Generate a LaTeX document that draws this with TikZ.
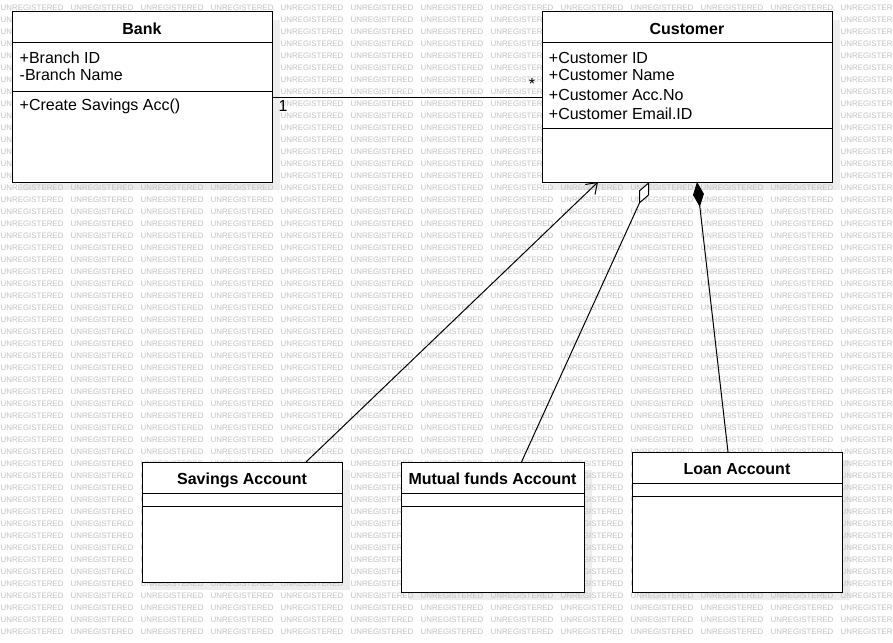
\documentclass[tikz,border=0pt]{standalone}
\usepackage{fontspec}
\setmainfont{Liberation Sans}
\usetikzlibrary{arrows.meta,calc}
\newcommand{\wmword}{\makebox[70pt][l]{UNREGISTERED}}
\newcommand{\wmline}{\wmword\wmword\wmword\wmword\wmword\wmword\wmword\wmword\wmword\wmword\wmword\wmword UNREGISTER}
\begin{document}
\begin{tikzpicture}[x=1pt,y=-1pt,
  classbox/.style={draw=black,line width=1pt,fill=white,rectangle,inner sep=0pt,outer sep=0pt,anchor=north west},
  shadowbox/.style={fill=black!7,draw=none,rectangle,inner sep=0pt,outer sep=0pt,anchor=north west},
  divider/.style={draw=black,line width=1pt},
  classtitle/.style={font=\bfseries\fontsize{16}{19}\selectfont,inner sep=0pt,anchor=base},
  attr/.style={font=\fontsize{16}{19}\selectfont,inner sep=0pt,anchor=base west},
  mult/.style={font=\fontsize{16}{19}\selectfont,inner sep=0pt},
  wm/.style={font=\fontsize{7.9}{9}\selectfont,text=black!24,inner sep=0pt,anchor=west},
  conn/.style={draw=black,line width=1pt}]
\useasboundingbox (0,0) rectangle (893,642);
\fill[white] (0,0) rectangle (893,642);
% shadows
\node[shadowbox,minimum width=260,minimum height=170] (bankS) at (20,20) {};
\node[shadowbox,minimum width=290,minimum height=170] (custS) at (550,20) {};
\node[shadowbox,minimum width=200,minimum height=120] (savS) at (150,470) {};
\node[shadowbox,minimum width=183,minimum height=130] (mutS) at (409,470) {};
\node[shadowbox,minimum width=210,minimum height=140] (loanS) at (640,460) {};
% watermark
\foreach \r in {0,...,52}{
  \node[wm] (wm\r) at (0.5,8+12*\r) {\wmline};
}
% classes
\node[classbox,minimum width=260,minimum height=170] (bank) at (12,12) {};
\draw[divider] (12,43) -- (272,43);
\draw[divider] (12,91) -- (272,91);
\node[classtitle] (bankT) at (142,34.3) {Bank};
\node[attr] (bankA1) at (19.5,63.3) {+Branch ID};
\node[attr] (bankA2) at (19.5,81) {-Branch Name};
\node[attr] (bankM1) at (19.5,110.2) {+Create Savings Acc()};

\node[classbox,minimum width=290,minimum height=170] (cust) at (542,12) {};
\draw[divider] (542,43) -- (832,43);
\draw[divider] (542,128) -- (832,128);
\node[classtitle] (custT) at (687,34.3) {Customer};
\node[attr] (custA1) at (548.7,63.3) {+Customer ID};
\node[attr] (custA2) at (548.7,81) {+Customer Name};
\node[attr] (custA3) at (548.7,100) {+Customer Acc.No};
\node[attr] (custA4) at (548.7,119) {+Customer Email.ID};

\node[classbox,minimum width=200,minimum height=120] (sav) at (142,462) {};
\draw[divider] (142,493.5) -- (342,493.5);
\draw[divider] (142,506) -- (342,506);
\node[classtitle] (savT) at (242,484.3) {Savings Account};

\node[classbox,minimum width=183,minimum height=130] (mut) at (401,462) {};
\draw[divider] (401,493.5) -- (584,493.5);
\draw[divider] (401,506) -- (584,506);
\node[classtitle] (mutT) at (492.5,484.3) {Mutual funds Account};

\node[classbox,minimum width=210,minimum height=140] (loan) at (632,452) {};
\draw[divider] (632,483.5) -- (842,483.5);
\draw[divider] (632,496) -- (842,496);
\node[classtitle] (loanT) at (737,474.3) {Loan Account};

% connectors
\draw[conn] (bank.east) -- (cust.west);
\node[mult] (m1) at (283,105.5) {1};
\node[mult] (m2) at (532,84) {*};
\draw[conn,-{Straight Barb[length=10pt,width=14pt]}] ($(sav.north)+(64,0)$) -- ($(cust.south)+(-89,0)$);
\draw[conn,-{Diamond[length=24pt,width=11pt,fill=white]}] ($(mut.north)+(29,0)$) -- ($(cust.south)+(-38,0)$);
\draw[conn,-{Diamond[length=25pt,width=11pt]}] ($(loan.north)+(-9,0)$) -- ($(cust.south)+(10,0)$);
\end{tikzpicture}
\end{document}
